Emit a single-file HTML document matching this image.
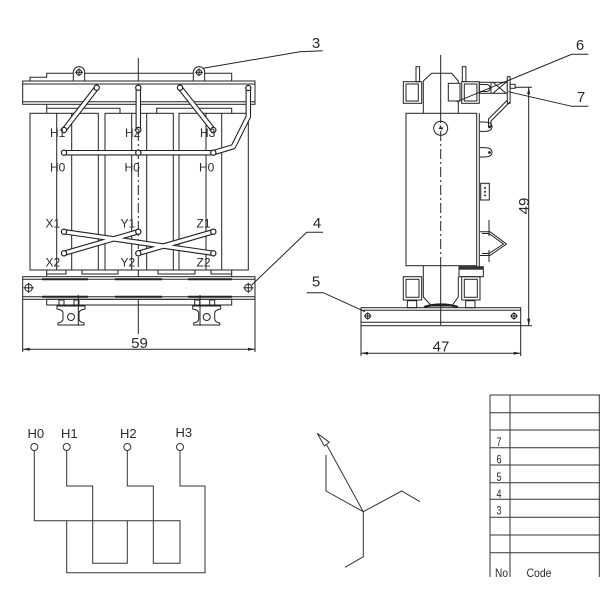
<!DOCTYPE html>
<html><head><meta charset="utf-8"><style>
html,body{margin:0;padding:0;background:#fff;}
svg{display:block;}
text{font-family:"Liberation Sans",sans-serif;fill:#2a2a2a;}
.t12{font-size:12px;}
.t15{font-size:15px;}
.nar{font-family:"Liberation Sans Narrow","Liberation Sans",sans-serif;font-size:12px;}
</style></head><body>
<svg width="600" height="600" viewBox="0 0 600 600" xmlns="http://www.w3.org/2000/svg">
<rect width="600" height="600" fill="#fff"/>
<g stroke="#222" stroke-width="1" fill="none">
<!-- ================= FRONT VIEW ================= -->
<line x1="138.3" y1="58" x2="138.3" y2="113"/>
<line x1="138.3" y1="113" x2="138.3" y2="270" stroke-dasharray="10,3,2,3"/>
<line x1="138.3" y1="270" x2="138.3" y2="334"/>
<polyline points="30,81 30,77.3 46.7,77.3 46.7,73.3 231.7,73.3 231.7,81"/>
<path d="M73.3,81 V72.3 A5.7,5.7 0 0 1 84.7,72.3 V81" fill="#fff"/>
<circle cx="79" cy="72.3" r="2.7"/><line x1="75" y1="72.3" x2="83" y2="72.3"/><line x1="79" y1="68.3" x2="79" y2="76.3"/>
<path d="M193.3,81 V72.3 A5.7,5.7 0 0 1 204.7,72.3 V81" fill="#fff"/>
<circle cx="199" cy="72.3" r="2.7"/><line x1="195" y1="72.3" x2="203" y2="72.3"/><line x1="199" y1="68.3" x2="199" y2="76.3"/>
<rect x="22.7" y="81" width="232.3" height="23.3" fill="#fff"/>
<line x1="22.7" y1="84" x2="255" y2="84"/>
<line x1="22.7" y1="101.7" x2="255" y2="101.7"/>
<line x1="46.7" y1="104.3" x2="46.7" y2="113.3"/>
<polyline points="46.7,108.3 120,108.3 120,113.3"/>
<polyline points="156.7,113.3 156.7,108.3 231.7,108.3 231.7,113.3"/>
<rect x="30" y="113.3" width="68.3" height="156.7"/>
<line x1="56.7" y1="113.3" x2="56.7" y2="270"/><line x1="71.7" y1="113.3" x2="71.7" y2="270"/>
<rect x="105" y="113.3" width="68.3" height="156.7"/>
<line x1="131.7" y1="113.3" x2="131.7" y2="270"/><line x1="146.7" y1="113.3" x2="146.7" y2="270"/>
<rect x="179" y="113.3" width="69.3" height="156.7"/>
<line x1="206" y1="113.3" x2="206" y2="270"/><line x1="221.7" y1="113.3" x2="221.7" y2="270"/>
<polyline points="46.7,276.7 46.7,270 231.7,270 231.7,276.7"/>
<polyline points="46.7,274 66,274 66,270"/>
<polyline points="82,270 82,274 118,274 118,270"/>
<polyline points="158,270 158,274 195,274 195,270"/>
<polyline points="211,270 211,274 231.7,274"/>
<rect x="22.7" y="276.7" width="232.3" height="22.6" fill="#fff"/>
<line x1="22.7" y1="279.3" x2="255" y2="279.3"/>
<line x1="22.7" y1="296.7" x2="255" y2="296.7"/>
<g stroke-width="2"><line x1="42" y1="279.3" x2="88" y2="279.3"/><line x1="115" y1="279.3" x2="162" y2="279.3"/><line x1="188" y1="279.3" x2="232" y2="279.3"/>
<line x1="42" y1="296.7" x2="88" y2="296.7"/><line x1="115" y1="296.7" x2="162" y2="296.7"/><line x1="188" y1="296.7" x2="232" y2="296.7"/></g>
<circle cx="28.6" cy="287.8" r="3.7"/><line x1="23.5" y1="287.8" x2="33.7" y2="287.8"/><line x1="28.6" y1="282.7" x2="28.6" y2="292.9"/>
<circle cx="248.3" cy="287.8" r="3.7"/><line x1="243.2" y1="287.8" x2="253.4" y2="287.8"/><line x1="248.3" y1="282.7" x2="248.3" y2="292.9"/>
<rect x="46.7" y="299.3" width="185" height="5.7"/>
<path d="M57,306 H85 V309 Q79,310 79,313 V319 Q79,322 84,323 V325 H58 V323 Q63,322 63,319 V313 Q63,310 57,309 Z" fill="#fff"/>
<circle cx="71" cy="317" r="3.5"/>
<rect x="59" y="300" width="5" height="6"/><rect x="74" y="300" width="5" height="6"/>
<line x1="78.3" y1="295" x2="78.3" y2="325.7"/>
<path d="M192.7,306 H220.7 V309 Q214.7,310 214.7,313 V319 Q214.7,322 219.7,323 V325 H193.7 V323 Q198.7,322 198.7,319 V313 Q198.7,310 192.7,309 Z" fill="#fff"/>
<circle cx="206.7" cy="317" r="3.5"/>
<rect x="194.7" y="300" width="5" height="6"/><rect x="209.7" y="300" width="5" height="6"/>
<line x1="200" y1="295" x2="200" y2="325.7"/>
<line x1="22.7" y1="299.3" x2="22.7" y2="352"/>
<line x1="255" y1="299.3" x2="255" y2="352"/>
<line x1="22.7" y1="349.3" x2="255" y2="349.3"/>
<polyline points="203.3,68.3 300,51.7 322.7,50.7"/>
<polyline points="251.7,285 306.7,232.3 323,232.3"/>
</g>
<g fill="#222">
<path d="M22.7,349.3 L29.7,347.8 L29.7,350.8 Z"/>
<path d="M255,349.3 L248,347.8 L248,350.8 Z"/>
<path d="M361,353.3 L368,351.8 L368,354.8 Z"/>
<path d="M520.7,353.3 L513.7,351.8 L513.7,354.8 Z"/>
<path d="M528.7,87.3 L527.2,94.3 L530.2,94.3 Z"/>
<path d="M528.7,325.7 L527.2,318.7 L530.2,318.7 Z"/>
</g>
<g fill="none" stroke-linecap="round" stroke-linejoin="round">
<g stroke="#222" stroke-width="5.5">
<line x1="64" y1="130" x2="96.7" y2="87.7"/>
<line x1="138.3" y1="130" x2="138.3" y2="87.7"/>
<line x1="213.3" y1="130" x2="180" y2="87.7"/>
<polyline points="64,152.7 213.3,152.7 233.3,146.7 248.3,116.7 248.3,88"/>
<line x1="64" y1="231.7" x2="213.3" y2="253.3"/>
<line x1="64" y1="253.3" x2="138.3" y2="231.7"/>
<line x1="138.3" y1="253.3" x2="213.3" y2="231.7"/>
</g>
<g stroke="#fff" stroke-width="3.3">
<line x1="64" y1="130" x2="96.7" y2="87.7"/>
<line x1="138.3" y1="130" x2="138.3" y2="87.7"/>
<line x1="213.3" y1="130" x2="180" y2="87.7"/>
<polyline points="64,152.7 213.3,152.7 233.3,146.7 248.3,116.7 248.3,88"/>
<line x1="64" y1="231.7" x2="213.3" y2="253.3"/>
<line x1="64" y1="253.3" x2="138.3" y2="231.7"/>
<line x1="138.3" y1="253.3" x2="213.3" y2="231.7"/>
</g>
</g>
<g fill="#fff" stroke="#222" stroke-width="1.2">
<circle cx="64" cy="130" r="2.6"/><circle cx="138.3" cy="130" r="2.6"/><circle cx="213.3" cy="130" r="2.6"/>
<circle cx="96.7" cy="87.7" r="2.6"/><circle cx="138.3" cy="87.7" r="2.6"/><circle cx="180" cy="87.7" r="2.6"/><circle cx="248.3" cy="88" r="2.6"/>
<circle cx="64" cy="152.7" r="2.6"/><circle cx="138.3" cy="152.7" r="2.6"/><circle cx="213.3" cy="152.7" r="2.6"/>
<circle cx="64" cy="231.7" r="2.6"/><circle cx="138.3" cy="231.7" r="2.6"/><circle cx="213.3" cy="231.7" r="2.6"/>
<circle cx="64" cy="253.3" r="2.6"/><circle cx="138.3" cy="253.3" r="2.6"/><circle cx="213.3" cy="253.3" r="2.6"/>
</g>
<g class="t12">
<text x="50" y="137">H1</text><text x="125" y="137">H2</text><text x="200" y="137">H3</text>
<text x="50" y="171.5">H0</text><text x="124.5" y="171.5">H0</text><text x="199" y="171.5">H0</text>
<text x="45.5" y="227.7">X1</text><text x="120.5" y="227.7">Y1</text><text x="196.5" y="227.7">Z1</text>
<text x="45.5" y="266.7">X2</text><text x="120.5" y="266.7">Y2</text><text x="196.5" y="266.7">Z2</text>
</g>
<g class="t15" text-anchor="middle">
<text x="139.5" y="348">59</text>
<text x="316" y="48">3</text>
<text x="317" y="228">4</text>
<text x="316" y="286.5">5</text>
<text x="580" y="50">6</text>
<text x="581" y="102">7</text>
<text x="441" y="351.5">47</text>
<text x="0" y="0" transform="translate(529,206) rotate(-90)">49</text>
</g>

<!-- ================= SIDE VIEW ================= -->
<g stroke="#222" stroke-width="1" fill="none">
<line x1="440.7" y1="55" x2="440.7" y2="113"/>
<line x1="440.7" y1="113" x2="440.7" y2="266" stroke-dasharray="10,3,2,3"/>
<line x1="440.7" y1="266" x2="440.7" y2="325"/>
<rect x="416" y="66.7" width="3.6" height="15"/>
<rect x="403.3" y="81.7" width="18.4" height="21.6"/>
<rect x="406" y="84" width="12.3" height="17"/>
<rect x="462.3" y="66.7" width="3.6" height="15"/>
<polyline points="423.3,113.3 423.3,81 431.7,73.3 451.7,73.3 458.3,81 458.3,113.3"/>
<rect x="448.3" y="83.3" width="11.7" height="17.7" fill="#fff"/>
<rect x="461.7" y="81.7" width="17.6" height="21.6" fill="#fff"/>
<rect x="464.3" y="84" width="12.6" height="17"/>
<rect x="479.3" y="82.3" width="28" height="11"/>
<path d="M480,84.5 H486 Q490,84.5 490,88 Q490,91.5 486,91.5 H480"/>
<line x1="491" y1="82.3" x2="491" y2="93.3"/>
<line x1="493" y1="82.3" x2="506" y2="93.3"/><line x1="493" y1="93.3" x2="506" y2="82.3"/>
<rect x="507.3" y="76.7" width="2.8" height="26.6" fill="#fff"/>
<rect x="510.1" y="84.3" width="5" height="4"/>
<line x1="515" y1="87.3" x2="532" y2="87.3"/>
<polyline points="507.5,100 488.5,119 488.5,127"/>
<polyline points="510,102 491,121 491,127"/>
<rect x="406" y="113.3" width="70.7" height="152.4" fill="none"/>
<line x1="479.3" y1="113.3" x2="479.3" y2="276.7"/>
<circle cx="440.7" cy="128.3" r="7"/>
<path d="M480,122 H484 Q492,122 492,126.7 Q492,131.4 484,131.4 H480"/>
<path d="M480,147.6 H484 Q492,147.6 492,152.3 Q492,157 484,157 H480"/>
<rect x="480.7" y="183.3" width="8.6" height="16.7"/>
<line x1="489" y1="220" x2="489" y2="236"/>
<polyline points="480,231.7 490,231.7 506.5,244 490,255.5 480,255.5"/>
<polyline points="482,233.5 489,233.5 503.5,244 489,253.5 482,253.5"/>
<line x1="489" y1="250" x2="489" y2="262"/>
<rect x="459" y="266.7" width="24.3" height="10" fill="#fff"/>
<polyline points="423.3,265.7 423.3,297 431.7,306 451.7,306 458.3,297 458.3,276.7"/>
<rect x="403.3" y="276.7" width="18.4" height="23.3"/>
<rect x="406" y="279.3" width="13" height="18"/>
<rect x="461.7" y="276.7" width="18.3" height="23.3"/>
<rect x="464.3" y="279.3" width="13" height="18"/>
<rect x="407.3" y="300.7" width="9.4" height="7"/>
<rect x="465.7" y="300.7" width="9.3" height="7"/>
<path d="M424,307 Q441,302 458,307" stroke-width="2.2"/>
<rect x="361" y="307.7" width="159.7" height="18"/>
<line x1="361" y1="310.3" x2="520.7" y2="310.3"/>
<line x1="361" y1="322.3" x2="520.7" y2="322.3"/>
<circle cx="367.7" cy="316" r="2.6"/><line x1="364" y1="316" x2="371.4" y2="316"/><line x1="367.7" y1="312.3" x2="367.7" y2="319.7"/>
<circle cx="514" cy="316" r="2.6"/><line x1="510.3" y1="316" x2="517.7" y2="316"/><line x1="514" y1="312.3" x2="514" y2="319.7"/>
<line x1="361" y1="326" x2="361" y2="356"/>
<line x1="520.7" y1="326" x2="520.7" y2="356"/>
<line x1="361" y1="353.3" x2="520.7" y2="353.3"/>
<line x1="528.7" y1="87.3" x2="528.7" y2="325.7"/>
<line x1="520.7" y1="325.7" x2="532" y2="325.7"/>
<polyline points="365,311.7 323.3,292.7 306.7,292.7"/>
<polyline points="456.7,101.7 571.7,54.3 588.3,54.3"/>
<polyline points="508.3,91.7 571.7,106.3 588.3,106.3"/>
</g>
<rect x="459" y="266.7" width="24.3" height="3" fill="#333"/>
<path d="M442.5,122.5 L438.5,129 L442,129 L439,134.5 L443.5,127.5 L440,127.5 Z" fill="#222"/>
<g fill="#222"><circle cx="485" cy="188" r="1"/><circle cx="485" cy="191.7" r="1"/><circle cx="485" cy="195.4" r="1"/>
<circle cx="489.5" cy="127" r="1.4"/><circle cx="489.5" cy="152.5" r="1.4"/></g>

<!-- ================= SCHEMATIC ================= -->
<g stroke="#333" stroke-width="1" fill="none">
<polyline points="34.3,450.5 34.3,520.7 180,520.7 180,563.3 153.3,563.3 153.3,486 127.3,486 127.3,450.5"/>
<polyline points="66.7,450.5 66.7,486 92.7,486 92.7,563.3 127.3,563.3 127.3,520.7"/>
<polyline points="180,450.5 180,486 205,486 205,572.7 66.7,572.7 66.7,520.7"/>
<circle cx="34.3" cy="447" r="3.5" fill="#fff"/>
<circle cx="66.7" cy="447" r="3.5" fill="#fff"/>
<circle cx="127.3" cy="447" r="3.5" fill="#fff"/>
<circle cx="180" cy="447" r="3.5" fill="#fff"/>
</g>
<g font-size="13">
<text x="27.5" y="438">H0</text>
<text x="61" y="438">H1</text>
<text x="120" y="438">H2</text>
<text x="175.5" y="437">H3</text>
</g>

<!-- ================= VECTOR ================= -->
<g stroke="#333" stroke-width="1" fill="none">
<polygon points="317.3,433.3 329.3,442.3 324.3,446"/>
<line x1="363.3" y1="511.7" x2="326.5" y2="444.5"/>
<polyline points="326,455 326,491 363.3,511.7"/>
<polyline points="363.3,511.7 401.7,491 420,501.7"/>
<polyline points="363.3,511.7 363.3,556.7 345,567.3"/>
</g>

<!-- ================= TABLE ================= -->
<g stroke="#333" stroke-width="1" fill="none">
<line x1="490" y1="395" x2="490" y2="577"/>
<line x1="510" y1="395" x2="510" y2="577"/>
<line x1="599.3" y1="395" x2="599.3" y2="577"/>
<line x1="490" y1="395" x2="600" y2="395"/>
<line x1="490" y1="412.7" x2="600" y2="412.7"/>
<line x1="490" y1="430" x2="600" y2="430"/>
<line x1="490" y1="447.7" x2="600" y2="447.7"/>
<line x1="490" y1="465" x2="600" y2="465"/>
<line x1="490" y1="482.7" x2="600" y2="482.7"/>
<line x1="490" y1="499.3" x2="600" y2="499.3"/>
<line x1="490" y1="517.3" x2="600" y2="517.3"/>
<line x1="490" y1="535" x2="600" y2="535"/>
<line x1="490" y1="552.7" x2="600" y2="552.7"/>
</g>
<g class="nar">
<text x="496.5" y="446" textLength="5" lengthAdjust="spacingAndGlyphs">7</text>
<text x="496.5" y="463.5" textLength="5" lengthAdjust="spacingAndGlyphs">6</text>
<text x="496.5" y="481" textLength="5" lengthAdjust="spacingAndGlyphs">5</text>
<text x="496.5" y="498" textLength="5" lengthAdjust="spacingAndGlyphs">4</text>
<text x="496.5" y="514.5" textLength="5" lengthAdjust="spacingAndGlyphs">3</text>
<text x="495" y="577" textLength="13" lengthAdjust="spacingAndGlyphs">No</text>
<text x="526.5" y="577" textLength="25" lengthAdjust="spacingAndGlyphs">Code</text>
</g>
</svg>
</body></html>
